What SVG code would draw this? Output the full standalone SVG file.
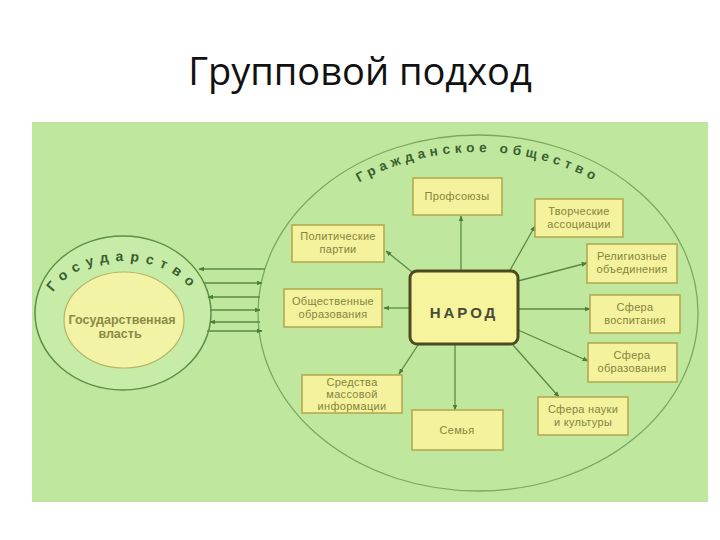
<svg xmlns="http://www.w3.org/2000/svg" width="720" height="540" viewBox="0 0 720 540">
<style>
.box{fill:#f4f29c;stroke:#b3aa52;stroke-width:1.6}
.bt{font-family:"Liberation Sans",Arial,sans-serif;font-size:11px;fill:#85843f;text-anchor:middle;letter-spacing:0.3px}
.con{stroke:#5b8a45;stroke-width:1.3;fill:none;marker-end:url(#ah)}
.arc{font-family:"Liberation Sans",Arial,sans-serif;font-weight:bold;fill:#3a5f30}
</style>
<defs>
<marker id="ah" viewBox="0 0 10 10" refX="9" refY="5" markerWidth="6" markerHeight="6" orient="auto" markerUnits="userSpaceOnUse">
<path d="M0,1 L10,5 L0,9 z" fill="#4e7d3a"/>
</marker>
<path id="govArc" d="M47,313 A76,52 0 0 1 199,313"/>
<path id="civArc" d="M275,313 A203,161 0 0 1 681,313"/>
</defs>
<rect width="720" height="540" fill="#ffffff"/>
<text x="360" y="85" text-anchor="middle" font-family="'Open Sans','Liberation Sans',sans-serif" font-size="38" fill="#111">Групповой подход</text>
<rect x="32" y="122" width="676" height="380" fill="#bfe89e"/>

<g id="gosudarstvo">
<ellipse cx="123" cy="313" rx="88" ry="77" fill="#c6eca8" stroke="#5e8f4a" stroke-width="1.5"/>
<ellipse cx="124" cy="320" rx="60" ry="48" fill="#f2f3a4" stroke="#b8b468" stroke-width="1.2"/>
<text class="arc" font-size="14" letter-spacing="6.5"><textPath href="#govArc" startOffset="50%" text-anchor="middle">Государство</textPath></text>
<text x="122" y="324" font-family="'Liberation Sans',Arial,sans-serif" font-weight="bold" font-size="12.5" fill="#8a8a45" text-anchor="middle">Государственная</text>
<text x="120" y="338" font-family="'Liberation Sans',Arial,sans-serif" font-weight="bold" font-size="12.5" fill="#8a8a45" text-anchor="middle">власть</text>
</g>

<g id="grazhdanskoe">
<ellipse cx="478" cy="313" rx="220" ry="178" fill="none" stroke="#7aa862" stroke-width="1.3"/>
<text class="arc" font-size="13.5" letter-spacing="4.6"><textPath href="#civArc" startOffset="50%" text-anchor="middle">Гражданское общество</textPath></text>
</g>

<g id="connectors">
<line class="con" x1="265" y1="269" x2="199" y2="269"/>
<line class="con" x1="204" y1="283" x2="262" y2="283"/>
<line class="con" x1="260" y1="297" x2="208" y2="297"/>
<line class="con" x1="210" y1="310" x2="260" y2="310"/>
<line class="con" x1="260" y1="322" x2="210" y2="322"/>
<line class="con" x1="207" y1="331" x2="262" y2="331"/>
<line class="con" x1="461" y1="272" x2="461" y2="216"/>
<line class="con" x1="412" y1="272" x2="386" y2="251"/>
<line class="con" x1="410" y1="308" x2="384" y2="308"/>
<line class="con" x1="418" y1="345" x2="399" y2="374"/>
<line class="con" x1="455" y1="345" x2="455" y2="410"/>
<line class="con" x1="509" y1="272" x2="535" y2="226"/>
<line class="con" x1="518" y1="281" x2="587" y2="263"/>
<line class="con" x1="518" y1="309" x2="590" y2="309"/>
<line class="con" x1="518" y1="330" x2="588" y2="361"/>
<line class="con" x1="513" y1="345" x2="559" y2="397"/>
</g>

<g id="narod">
<rect x="410" y="271" width="108" height="73" rx="7" fill="#f6f49c" stroke="#4d4a22" stroke-width="3"/>
<text x="464" y="318" font-family="'Liberation Sans',Arial,sans-serif" font-weight="bold" font-size="15" fill="#4a4a38" text-anchor="middle" letter-spacing="3">НАРОД</text>
</g>
<g id="profsoyuzy">
<rect class="box" x="413" y="178" width="89" height="37"/>
<text class="bt" x="457" y="200">Профсоюзы</text>
</g>
<g id="partii">
<rect class="box" x="292" y="225" width="92" height="37"/>
<text class="bt" x="338" y="240">Политические</text>
<text class="bt" x="338" y="253">партии</text>
</g>
<g id="obshchestvennye">
<rect class="box" x="284" y="289" width="98" height="38"/>
<text class="bt" x="333" y="305">Общественные</text>
<text class="bt" x="333" y="318">образования</text>
</g>
<g id="smi">
<rect class="box" x="302" y="375" width="100" height="38"/>
<text class="bt" x="352" y="386">Средства</text>
<text class="bt" x="352" y="398">массовой</text>
<text class="bt" x="352" y="410">информации</text>
</g>
<g id="semya">
<rect class="box" x="412" y="410" width="91" height="40"/>
<text class="bt" x="457" y="434">Семья</text>
</g>
<g id="tvorcheskie">
<rect class="box" x="535" y="199" width="88" height="38"/>
<text class="bt" x="579" y="215">Творческие</text>
<text class="bt" x="579" y="228">ассоциации</text>
</g>
<g id="religioznye">
<rect class="box" x="587" y="244" width="90" height="39"/>
<text class="bt" x="632" y="260">Религиозные</text>
<text class="bt" x="632" y="273">объединения</text>
</g>
<g id="vospitanie">
<rect class="box" x="590" y="295" width="90" height="38"/>
<text class="bt" x="635" y="311">Сфера</text>
<text class="bt" x="635" y="324">воспитания</text>
</g>
<g id="obrazovanie">
<rect class="box" x="588" y="343" width="89" height="39"/>
<text class="bt" x="632" y="359">Сфера</text>
<text class="bt" x="632" y="372">образования</text>
</g>
<g id="nauka">
<rect class="box" x="538" y="397" width="90" height="38"/>
<text class="bt" x="583" y="413">Сфера науки</text>
<text class="bt" x="583" y="426">и культуры</text>
</g>
</svg>
